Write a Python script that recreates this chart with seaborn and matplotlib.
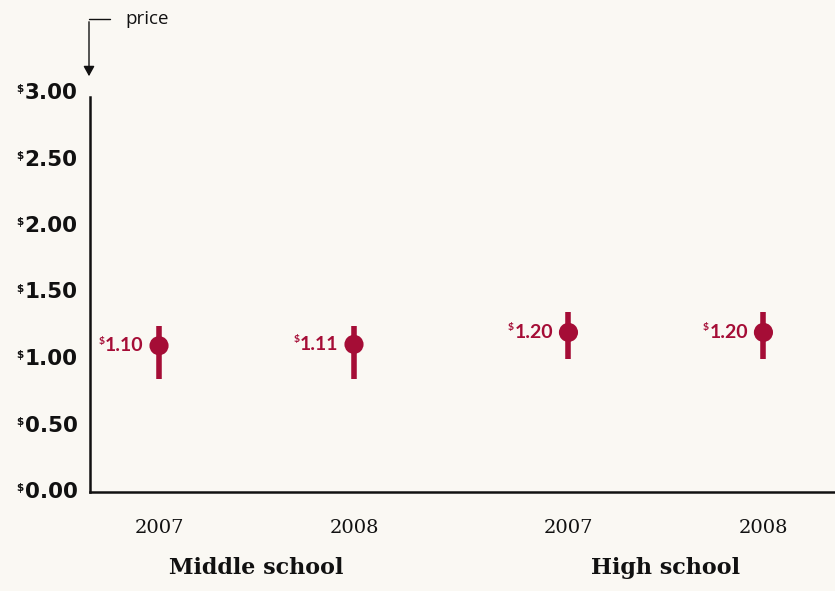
import numpy as np
import pandas as pd
import matplotlib
matplotlib.use("Agg")
import matplotlib.pyplot as plt
import seaborn as sns

# chart data
groups = ["Middle school", "Middle school", "High school", "High school"]
years = ["2007", "2008", "2007", "2008"]
price = [1.10, 1.11, 1.20, 1.20]
low = [0.85, 0.85, 1.00, 1.00]
high = [1.25, 1.25, 1.35, 1.35]
yticks = [0.0, 0.5, 1.0, 1.5, 2.0, 2.5, 3.0]

BG = "#faf8f3"
RED = "#a50d36"
INK = "#111111"

sns.set_theme(style="white")
plt.rcParams["font.family"] = ["Lato", "DejaVu Sans"]

df = pd.DataFrame({"group": groups, "year": years, "price": price,
                   "low": low, "high": high})
# small extra gap between the two school groups
group_idx = pd.factorize(df["group"])[0]
df["x"] = np.arange(len(df)) + group_idx * 0.1

fig = plt.figure(figsize=(8.35, 5.91), dpi=100, facecolor=BG)
ax = fig.add_axes([90 / 835, 99 / 591, 1 - 90 / 835, (492 - 93) / 591])
ax.set_facecolor(BG)

ax.vlines(df["x"], df["low"], df["high"], color=RED, lw=4, zorder=2)
sns.scatterplot(data=df, x="x", y="price", ax=ax, color=RED, s=190,
                edgecolor="none", zorder=3, legend=False)

# value labels with a small superscript dollar sign
for _, r in df.iterrows():
    t = ax.annotate(f"{r['price']:.2f}", (r["x"], r["price"]), xytext=(-11, 0),
                    textcoords="offset points", color=RED, fontsize=14,
                    fontweight="bold", ha="right", va="center")
    ax.annotate("$", (0, 1), xycoords=t, xytext=(-0.5, 0.5),
                textcoords="offset points", color=RED, fontsize=7.5,
                fontweight="bold", ha="right", va="top")

ax.set_xlim(-0.354, 3.467)
ax.set_ylim(0, 3.0)
ax.set_xticks([])
ax.set_yticks(yticks)
ax.set_yticklabels([])
ax.tick_params(axis="y", length=0)
ax.set_xlabel("")
ax.set_ylabel("")

for s in ["top", "right"]:
    ax.spines[s].set_visible(False)
for s in ["left", "bottom"]:
    ax.spines[s].set_color(INK)
    ax.spines[s].set_linewidth(1.8)
ax.spines["left"].set_bounds(0, 2.97)

# y tick labels: small superscript $ plus big bold number
for v in yticks:
    t = ax.annotate(f"{v:.2f}", (0, v), xycoords=("axes fraction", "data"),
                    xytext=(-9, 0), textcoords="offset points", ha="right",
                    va="center", fontsize=15.5, fontweight="bold",
                    family="DejaVu Sans", color=INK, annotation_clip=False)
    ax.annotate("$", (0, 1), xycoords=t, xytext=(-0.5, -1),
                textcoords="offset points", ha="right", va="top",
                fontsize=7.5, fontweight="bold", family="DejaVu Sans",
                color=INK, annotation_clip=False)

# year labels and group labels
for _, r in df.iterrows():
    ax.annotate(r["year"], (r["x"], 0), xytext=(0, -26),
                textcoords="offset points", ha="center", va="center",
                fontsize=14, family="DejaVu Serif", color=INK,
                annotation_clip=False)
for g, sub in df.groupby("group", sort=False):
    ax.annotate(g, (sub["x"].mean(), 0), xytext=(0, -55),
                textcoords="offset points", ha="center", va="center",
                fontsize=16, fontweight="bold", family="DejaVu Serif",
                color=INK, annotation_clip=False)

# "price" pointer
fig.text(125 / 835, 1 - 19 / 591, "price", fontsize=13.5, color=INK,
         va="center", ha="left", family="Open Sans")
fig.add_artist(plt.Line2D([89 / 835, 110 / 835], [1 - 19 / 591, 1 - 19 / 591],
                          transform=fig.transFigure, color=INK, lw=1))
fig.add_artist(matplotlib.patches.FancyArrowPatch(
    (89 / 835, 1 - 19 / 591), (89 / 835, 1 - 79 / 591),
    transform=fig.transFigure, arrowstyle="-|>,head_length=4,head_width=2.2",
    color=INK, lw=1, mutation_scale=1.5))

fig.savefig("out.png", dpi=100, facecolor=BG)
